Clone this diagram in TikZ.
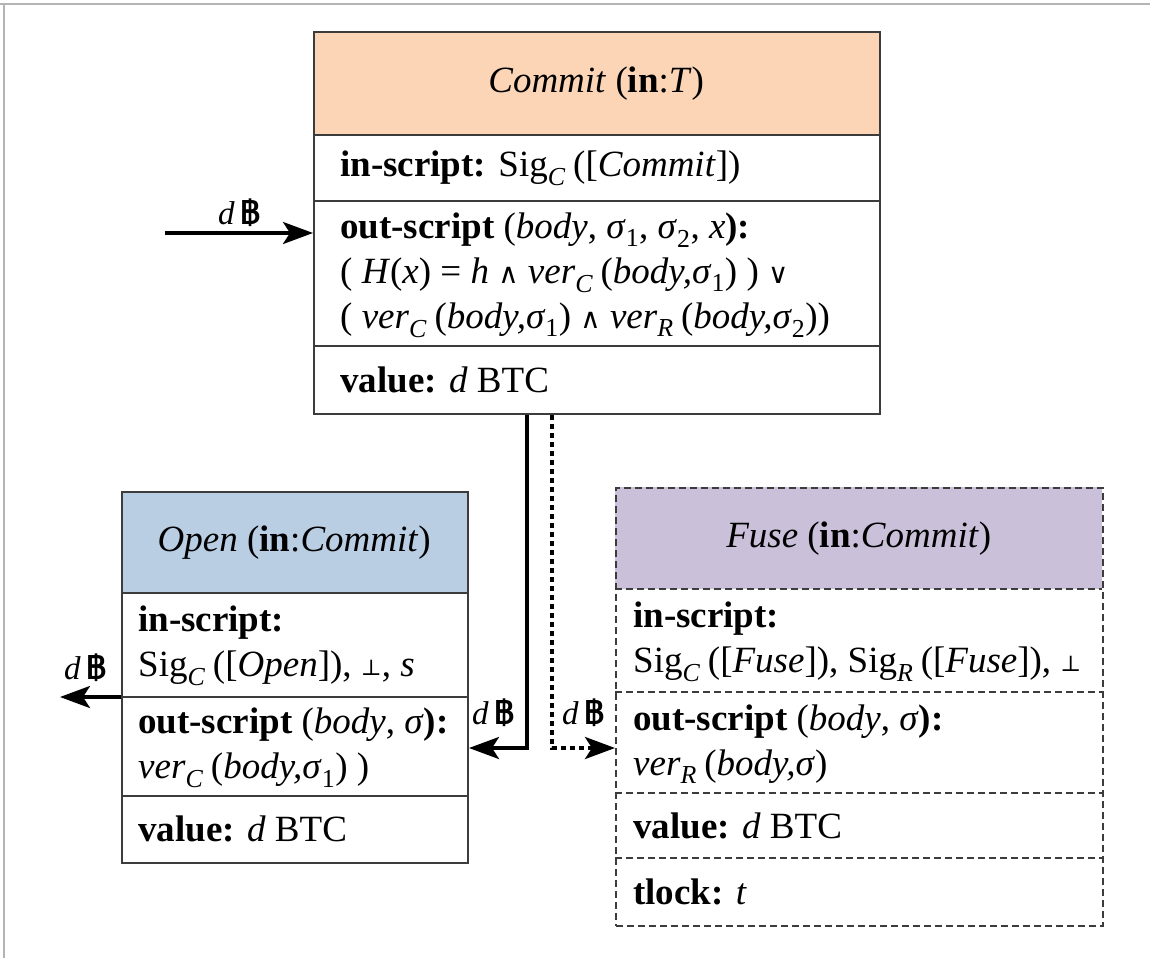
\documentclass[tikz,border=0pt]{standalone}
\usepackage{fontspec}
\setmainfont{Liberation Serif}
\newfontfamily\bahtfont[Script=Thai]{Loma}
\newfontfamily\opfont{DejaVu Serif}
\usetikzlibrary{arrows.meta,calc}

\definecolor{commitfill}{HTML}{FBD5B6}
\definecolor{openfill}{HTML}{B9CDE3}
\definecolor{fusefill}{HTML}{CBC0DA}
\definecolor{edge}{HTML}{3C3C3C}
\definecolor{framecol}{HTML}{B4B4B4}

\newcommand\sbC{\textsubscript{\textit{C}}\hspace{0.2em}}
\newcommand\sbR{\textsubscript{\textit{R}}\hspace{0.2em}}
\newcommand\botm{\raisebox{0.05em}{\scalebox{0.6}{\opfont ⊥}}}
\newcommand\andop{{\opfont\scalebox{0.75}{∧}}}
\newcommand\orop{{\opfont\scalebox{0.75}{∨}}}
\newcommand\coin{{\bahtfont\bfseries ฿}}

\tikzset{
  box/.style={draw=edge, line width=2pt, inner sep=0pt, anchor=north west},
  dbox/.style={draw=edge, line width=1.8pt, dash pattern=on 7pt off 4pt, inner sep=0pt, anchor=north west},
  head/.style={inner sep=0pt, anchor=north west, font=\fontsize{37}{45}\selectfont},
  txt/.style={inner sep=0pt, anchor=west, align=left, font=\fontsize{37}{45}\selectfont},
  lbl/.style={inner sep=0pt, anchor=base west, font=\fontsize{33}{38}\selectfont},
  divider/.style={draw=edge, line width=2pt},
  ddivider/.style={draw=edge, line width=1.8pt, dash pattern=on 7pt off 4pt},
  conn/.style={line width=3.5pt, -{Stealth[length=30pt,width=22pt,inset=7pt]}},
  dotline/.style={line width=4pt, dash pattern=on 5pt off 4pt},
}

\begin{document}
\begin{tikzpicture}[x=1pt,y=-1pt]
\useasboundingbox (0,0) rectangle (1150,958);

% outer frame
\draw[framecol, line width=2pt] (0,4) -- (1150,4);
\draw[framecol, line width=2pt] (4,4) -- (4,958);

% ---------------- Commit ----------------
\node[head, fill=commitfill, minimum width=566pt, minimum height=104pt] (commit-head) at (313,31)
  {\textit{Commit} (\textbf{in}:\textit{T})};
\node[box, minimum width=566pt, minimum height=382pt] (commit) at (313,31) {};
\draw[divider] (313,135) -- (879,135);
\draw[divider] (313,201) -- (879,201);
\draw[divider] (313,346) -- (879,346);
\node[txt] (commit-in) at (340,168)
  {\textbf{in-script:} Sig\sbC([\textit{Commit}])};
\node[txt] (commit-out) at (340,275)
  {\textbf{out-script} (\textit{body}, \textit{σ}\textsubscript{1}, \textit{σ}\textsubscript{2}, \textit{x}\textbf{):}\\
   ( \textit{H}(\textit{x}) = \textit{h} \andop{} \textit{ver}\sbC(\textit{body,σ}\textsubscript{1}) ) \orop\\
   ( \textit{ver}\sbC(\textit{body,σ}\textsubscript{1}) \andop{} \textit{ver}\sbR(\textit{body,σ}\textsubscript{2}))};
\node[txt] (commit-val) at (340,380) {\textbf{value:} \textit{d} BTC};

% ---------------- Open ----------------
\node[head, fill=openfill, minimum width=346pt, minimum height=102pt] (open-head) at (121,491)
  {\textit{Open} (\textbf{in}:\textit{Commit})};
\node[box, minimum width=346pt, minimum height=371pt] (open) at (121,491) {};
\draw[divider] (121,593) -- (467,593);
\draw[divider] (121,697) -- (467,697);
\draw[divider] (121,796) -- (467,796);
\node[txt] (open-in) at (138,646)
  {\textbf{in-script:}\\ Sig\sbC([\textit{Open}]), \botm, \textit{s}};
\node[txt] (open-out) at (138,748)
  {\textbf{out-script} (\textit{body}, \textit{σ}\textbf{):}\\ \textit{ver}\sbC(\textit{body,σ}\textsubscript{1}) )};
\node[txt] (open-val) at (138,829) {\textbf{value:} \textit{d} BTC};

% ---------------- Fuse ----------------
\node[head, fill=fusefill, minimum width=487pt, minimum height=102pt] (fuse-head) at (615,487)
  {\textit{Fuse} (\textbf{in}:\textit{Commit})};
\node[dbox, minimum width=487pt, minimum height=438pt] (fuse) at (615,487) {};
\draw[ddivider] (615,589) -- (1102,589);
\draw[ddivider] (615,692) -- (1102,692);
\draw[ddivider] (615,793) -- (1102,793);
\draw[ddivider] (615,858) -- (1102,858);
\node[txt] (fuse-in) at (633,642)
  {\textbf{in-script:}\\ Sig\sbC([\textit{Fuse}]), Sig\sbR([\textit{Fuse}]), \botm};
\node[txt] (fuse-out) at (633,744)
  {\textbf{out-script} (\textit{body}, \textit{σ}\textbf{):}\\ \textit{ver}\sbR(\textit{body,σ})};
\node[txt] (fuse-val) at (633,826) {\textbf{value:} \textit{d} BTC};
\node[txt] (fuse-tl) at (633,892) {\textbf{tlock:} \textit{t}};

% ---------------- connectors ----------------
\coordinate (src) at (165,233);
\draw[conn] (src) -- (src -| commit.west);
\node[lbl] (src-lbl) at (218,224) {\textit{d}\,\coin};

\coordinate (sink) at (60,697);
\draw[conn] (open.west |- sink) -- (sink);
\node[lbl] (sink-lbl) at (64,679) {\textit{d}\,\coin};

\coordinate (bendA) at (527,748);
\draw[conn] (commit.south -| bendA) -- (bendA) -- (bendA -| open.east);
\node[lbl] (bendA-lbl) at (472,724) {\textit{d}\,\coin};

\coordinate (bendB) at (552,748);
\draw[conn, dotline] (commit.south -| bendB) -- (bendB) -- (bendB -| fuse.west);
\node[lbl] (bendB-lbl) at (562,724) {\textit{d}\,\coin};
\end{tikzpicture}
\end{document}
